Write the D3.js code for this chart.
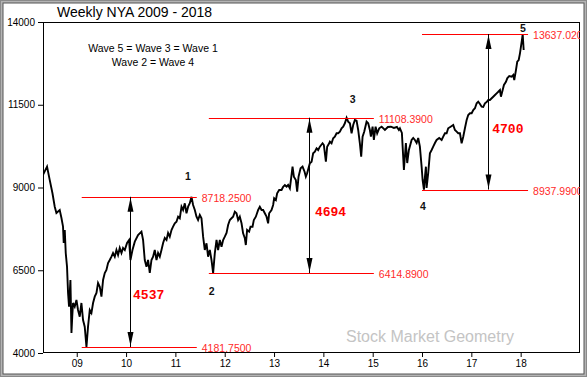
<!DOCTYPE html>
<html>
<head>
<meta charset="utf-8">
<script src="https://cdn.jsdelivr.net/npm/d3@7"></script>
<style>
  body { margin: 0; background: #fff; }
  svg { display: block; font-family: "Liberation Sans", Arial, sans-serif; }
</style>
</head>
<body>
<div id="chart"></div>
<script>
// weekly NYA closes, x = decimal year
const weeks = [
  2008.316, 2008.398, 2008.452, 2008.507, 2008.554, 2008.588, 2008.655, 2008.690, 2008.722, 2008.736,
  2008.757, 2008.777, 2008.803, 2008.824, 2008.844, 2008.872, 2008.893, 2008.909, 2008.925, 2008.959,
  2008.994, 2009.026, 2009.061, 2009.095, 2009.128, 2009.162, 2009.197, 2009.229, 2009.264, 2009.298,
  2009.331, 2009.365, 2009.400, 2009.432, 2009.467, 2009.501, 2009.534, 2009.568, 2009.602, 2009.635,
  2009.669, 2009.704, 2009.736, 2009.771, 2009.805, 2009.838, 2009.872, 2009.907, 2009.939, 2009.974,
  2010.020, 2010.061, 2010.089, 2010.130, 2010.177, 2010.243, 2010.312, 2010.345, 2010.379, 2010.414,
  2010.446, 2010.481, 2010.515, 2010.548, 2010.582, 2010.617, 2010.649, 2010.684, 2010.718, 2010.751,
  2010.785, 2010.820, 2010.852, 2010.886, 2010.921, 2010.953, 2010.988, 2011.022, 2011.055, 2011.089,
  2011.124, 2011.156, 2011.191, 2011.225, 2011.258, 2011.292, 2011.327, 2011.359, 2011.394, 2011.428,
  2011.460, 2011.495, 2011.529, 2011.562, 2011.596, 2011.631, 2011.663, 2011.698, 2011.732, 2011.765,
  2011.799, 2011.834, 2011.866, 2011.901, 2011.935, 2011.968, 2012.002, 2012.037, 2012.069, 2012.104,
  2012.138, 2012.170, 2012.205, 2012.239, 2012.272, 2012.306, 2012.341, 2012.373, 2012.408, 2012.428,
  2012.454, 2012.495, 2012.523, 2012.564, 2012.590, 2012.631, 2012.678, 2012.712, 2012.747, 2012.779,
  2012.813, 2012.848, 2012.880, 2012.901, 2012.949, 2012.982, 2013.002, 2013.037, 2013.063, 2013.104,
  2013.152, 2013.185, 2013.219, 2013.254, 2013.286, 2013.321, 2013.355, 2013.375, 2013.402, 2013.442,
  2013.469, 2013.497, 2013.538, 2013.578, 2013.619, 2013.645, 2013.671, 2013.726, 2013.761, 2013.793,
  2013.828, 2013.862, 2013.895, 2013.929, 2013.984, 2014.010, 2014.051, 2014.077, 2014.118, 2014.132,
  2014.166, 2014.199, 2014.233, 2014.268, 2014.300, 2014.335, 2014.369, 2014.402, 2014.436, 2014.471,
  2014.503, 2014.538, 2014.572, 2014.605, 2014.639, 2014.673, 2014.706, 2014.740, 2014.767, 2014.795,
  2014.828, 2014.876, 2014.909, 2014.943, 2014.964, 2014.998, 2015.024, 2015.059, 2015.091, 2015.132,
  2015.181, 2015.248, 2015.308, 2015.369, 2015.430, 2015.491, 2015.531, 2015.552, 2015.592, 2015.633,
  2015.673, 2015.700, 2015.734, 2015.789, 2015.822, 2015.856, 2015.891, 2015.923, 2015.957, 2015.992,
  2016.012, 2016.039, 2016.059, 2016.079, 2016.093, 2016.126, 2016.160, 2016.195, 2016.227, 2016.262,
  2016.296, 2016.349, 2016.398, 2016.430, 2016.465, 2016.499, 2016.531, 2016.580, 2016.633, 2016.667,
  2016.702, 2016.734, 2016.769, 2016.803, 2016.836, 2016.870, 2016.905, 2016.937, 2016.972, 2017.006,
  2017.039, 2017.073, 2017.108, 2017.140, 2017.175, 2017.209, 2017.241, 2017.276, 2017.310, 2017.343,
  2017.377, 2017.412, 2017.444, 2017.479, 2017.513, 2017.546, 2017.580, 2017.600, 2017.635, 2017.661,
  2017.702, 2017.728, 2017.769, 2017.817, 2017.850, 2017.870, 2017.905, 2017.931, 2017.960, 2017.986,
  2018.006, 2018.026, 2018.041, 2018.061
];
const closes = [
  9380, 9630, 9230, 8834, 8420, 8230, 8321, 8079, 7816, 7324,
  7716, 7021, 6608, 5813, 5399, 6206, 4605, 5097, 5511, 5399,
  5602, 5300, 5097, 5511, 4997, 4795, 4182, 4795, 5300, 5209,
  5511, 5701, 5813, 6115, 6003, 5701, 6206, 6417, 6508, 6719,
  6810, 6910, 7021, 6910, 7112, 6961, 7173, 7021, 7173, 7112,
  7324, 7414, 6810, 7112, 7363, 7565, 7665, 7414, 6810, 6608,
  6810, 6417, 6810, 6910, 7112, 6810, 7021, 6910, 7112, 7324,
  7475, 7414, 7626, 7514, 7716, 7816, 7919, 7967, 8118, 8070,
  8420, 8321, 8523, 8221, 8420, 8523, 8718, 8472, 8321, 8118,
  8018, 8170, 8070, 7514, 7112, 7315, 6910, 7112, 6810, 6415,
  7012, 7414, 7112, 7414, 7212, 7414, 7514, 7626, 7867, 8018,
  8070, 8118, 8269, 8221, 8018, 8118, 7919, 7617, 7466, 7263,
  7716, 7665, 7816, 7816, 8018, 8118, 8321, 8420, 8321, 8321,
  8221, 8118, 7919, 8221, 8321, 8472, 8674, 8623, 8825, 8925,
  8925, 9024, 9076, 9024, 9076, 8976, 9378, 9629, 9327, 9227,
  8873, 9327, 9580, 9629, 9478, 9327, 9429, 9731, 9780, 10033,
  10082, 10185, 10133, 10233, 10336, 10284, 9780, 10233, 10336, 10384,
  10336, 10487, 10535, 10638, 10638, 10686, 10789, 10837, 10940, 11108,
  10988, 10940, 10638, 10888, 11039, 11018, 10737, 10336, 9931, 10535,
  10686, 10988, 10940, 10737, 10535, 10837, 10435, 10837, 10638, 10789,
  10837, 10737, 10828, 10837, 10798, 10828, 10737, 10789, 10647, 9529,
  10345, 9740, 10133, 10435, 10496, 10435, 10345, 10496, 10233, 9629,
  9227, 8938, 9317, 9629, 8985, 9438, 10033, 10133, 10233, 10345,
  10435, 10496, 10435, 10535, 10638, 10638, 10789, 10837, 10888, 10737,
  10686, 10638, 10638, 10336, 10535, 10789, 11039, 11190, 11242, 11242,
  11342, 11393, 11544, 11592, 11523, 11441, 11432, 11544, 11583, 11644,
  11644, 11695, 11743, 11795, 11846, 11894, 11946, 11743, 11946, 12097,
  12196, 12299, 12369, 12348, 12399, 12248, 12550, 12801, 12852, 13054,
  13254, 13456, 13637, 13154
];

const yTicks = [4000, 6500, 9000, 11500, 14000];
const xTicks = [2009, 2010, 2011, 2012, 2013, 2014, 2015, 2016, 2017, 2018];

// horizontal red levels
const levelValues = [8718.25, 4181.75, 6414.89, 11108.39, 8937.99, 13637.02];
const levelFrom   = [2009.101, 2009.101, 2011.678, 2011.678, 2016.0, 2016.0];
const levelTo     = [2011.434, 2011.434, 2015.024, 2015.024, 2018.15, 2018.15];

// measuring arrows
const arrowAt    = [2010.075, 2013.716, 2017.331];
const arrowTop   = [8718.25, 11108.39, 13637.02];
const arrowBot   = [4181.75, 6414.89, 8937.99];
const arrowText  = ["4537", "4694", "4700"];
const arrowTextX = [2010.142, 2013.828, 2017.424];
const arrowTextY = [5632, 8148, 10638];

// elliott wave counts
const waveNames = ["1", "2", "3", "4", "5"];
const waveX = [2011.252, 2011.738, 2014.592, 2016.018, 2018.047];
const waveY = [9227, 5753, 11562, 8320, 13707];

const W = 587, H = 377;
const plot = { left: 43, top: 22, right: 580, bottom: 353 };

const svg = d3.select("#chart").append("svg")
  .attr("width", W)
  .attr("height", H);

// window-ish frame
svg.append("rect").attr("width", W).attr("height", H).attr("fill", "#8a8a8a");
svg.append("rect").attr("x", 1).attr("y", 1).attr("width", W - 2).attr("height", H - 2).attr("fill", "#b4b4b4");
svg.append("rect").attr("x", 3).attr("y", 3).attr("width", W - 6).attr("height", H - 6)
  .attr("fill", "#fff").attr("stroke", "#555").attr("stroke-width", 1);

const x = d3.scaleLinear()
  .domain([2008.316, 2019.203])
  .range([plot.left, plot.right]);

const y = d3.scaleLinear()
  .domain([4000, 14000])
  .range([plot.bottom, plot.top]);

svg.append("defs").append("clipPath").attr("id", "clip")
  .append("rect")
  .attr("x", plot.left).attr("y", plot.top)
  .attr("width", plot.right - plot.left).attr("height", plot.bottom - plot.top);

// axes
const yAxis = svg.append("g")
  .attr("transform", "translate(" + plot.left + ",0)")
  .call(d3.axisLeft(y).tickValues(yTicks).tickSize(5).tickPadding(3).tickFormat(d3.format("d")));
const xAxis = svg.append("g")
  .attr("transform", "translate(0," + plot.bottom + ")")
  .call(d3.axisBottom(x).tickValues(xTicks).tickSize(4).tickPadding(3)
    .tickFormat(d => String(d).slice(2)));
[yAxis, xAxis].forEach(g => {
  g.select(".domain").remove();
  g.selectAll("line").attr("stroke", "#000");
  g.selectAll("text").attr("fill", "#000").attr("font-size", 10)
    .attr("font-family", "'Liberation Sans', Arial, sans-serif");
});

svg.append("rect")
  .attr("x", plot.left + 0.5).attr("y", plot.top + 0.5)
  .attr("width", plot.right - plot.left - 1).attr("height", plot.bottom - plot.top - 1)
  .attr("fill", "none").attr("stroke", "#000");

// title + notes
svg.append("text").attr("x", 57).attr("y", 17).attr("font-size", 14).text("Weekly NYA 2009 - 2018");
svg.append("text").attr("x", 153).attr("y", 52).attr("font-size", 10.5).attr("text-anchor", "middle")
  .text("Wave 5 = Wave 3 = Wave 1");
svg.append("text").attr("x", 153).attr("y", 66).attr("font-size", 10.5).attr("text-anchor", "middle")
  .text("Wave 2 = Wave 4");

// level labels run past the plot edge in the original, so they're clipped too
const g = svg.append("g").attr("clip-path", "url(#clip)");

// watermark
g.append("text")
  .attr("x", 430).attr("y", 342)
  .attr("text-anchor", "middle")
  .attr("font-size", 16)
  .attr("fill", "#c4c4c4")
  .text("Stock Market Geometry");

// price
const line = d3.line()
  .x((d, i) => x(weeks[i]))
  .y(d => y(d));
g.append("path")
  .datum(closes)
  .attr("d", line)
  .attr("fill", "none")
  .attr("stroke", "#000")
  .attr("stroke-width", 1.9)
  .attr("stroke-linejoin", "miter");

// levels
levelValues.forEach((v, i) => {
  const yy = Math.round(y(v)) + 0.5;
  g.append("line")
    .attr("x1", x(levelFrom[i])).attr("x2", x(levelTo[i]))
    .attr("y1", yy).attr("y2", yy)
    .attr("stroke", "#ff0000").attr("stroke-width", 1);
  g.append("text")
    .attr("x", x(levelTo[i]) + 5).attr("y", yy + 4)
    .attr("font-size", 10.5).attr("fill", "#ff2a2a")
    .text(d3.format(".4f")(v));
});

// arrows
arrowAt.forEach((a, i) => {
  const ax = Math.round(x(a)) + 0.5;
  const t = y(arrowTop[i]), b = y(arrowBot[i]);
  g.append("line").attr("x1", ax).attr("x2", ax).attr("y1", t).attr("y2", b)
    .attr("stroke", "#000").attr("stroke-width", 1);
  g.append("path").attr("d", `M${ax},${t + 1}L${ax - 3},${t + 15}L${ax + 3},${t + 15}Z`).attr("fill", "#000");
  g.append("path").attr("d", `M${ax},${b - 1}L${ax - 3},${b - 15}L${ax + 3},${b - 15}Z`).attr("fill", "#000");
  g.append("text")
    .attr("x", x(arrowTextX[i])).attr("y", y(arrowTextY[i]))
    .attr("font-family", "'Liberation Mono', 'Courier New', monospace")
    .attr("font-weight", "bold").attr("font-size", 13)
    .attr("fill", "#ff0000")
    .text(arrowText[i]);
});

// wave numbers
waveNames.forEach((w, i) => {
  g.append("text")
    .attr("x", x(waveX[i])).attr("y", y(waveY[i]))
    .attr("text-anchor", "middle")
    .attr("font-weight", "bold").attr("font-size", 10.5)
    .attr("fill", "#111")
    .text(w);
});
</script>
</body>
</html>
